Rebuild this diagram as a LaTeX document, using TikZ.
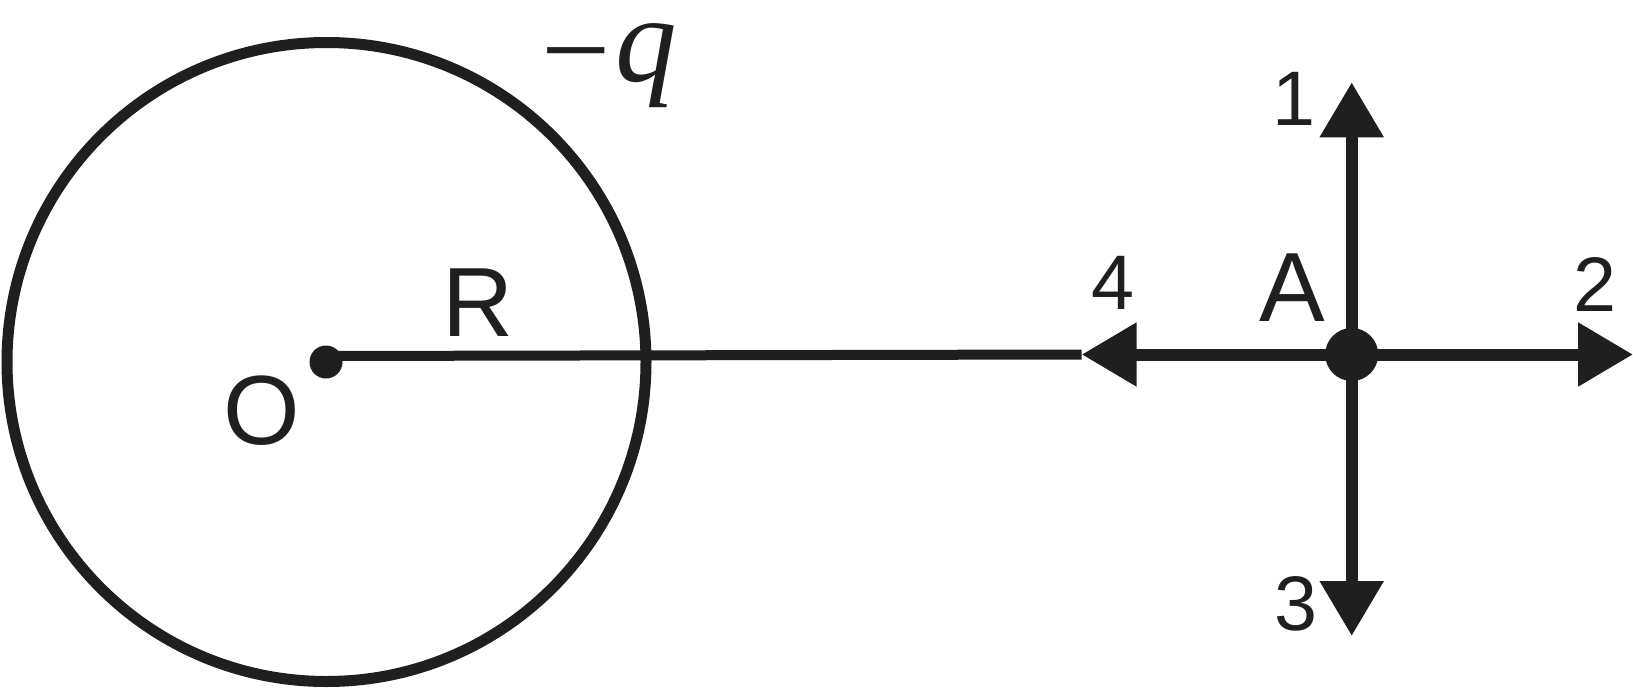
\documentclass[tikz,border=0pt]{standalone}
\usepackage{fontspec}
\setmainfont{Liberation Sans}
\newfontfamily\timesfont{Liberation Serif}
\usetikzlibrary{arrows.meta}
\begin{document}
\begin{tikzpicture}[black!88,
  dot/.style={circle,fill=black!88,inner sep=0pt,minimum size=#1},
  ray/.style={line width=0.12cm,-{Triangle[length=0.55cm,width=0.61cm]}},
  lab/.style={inner sep=0pt,font=\fontsize{28}{28}\selectfont},
  num/.style={inner sep=0pt,font=\fontsize{22}{22}\selectfont}]
\useasboundingbox (0,0) rectangle (16.33,6.89);
% sphere of charge -q
\draw[line width=0.11cm] (3.265,3.27) circle (3.195);
\node[dot=0.33cm] (O) at (3.26,3.27) {};
\node[dot=0.53cm] (A) at (13.517,3.345) {};
\coordinate (e1) at (13.517,6.067);
\coordinate (e2) at (16.33,3.345);
\coordinate (e3) at (13.517,0.53);
\coordinate (e4) at (10.817,3.345);
\draw[line width=0.1cm] ([yshift=0.06cm]O.center) -- (e4);
\foreach \e in {e1,e2,e3,e4}
  \draw[ray] (A.center) -- (\e);
% labels
\node[lab] (Olab) at (2.62,2.785) {O};
\node[lab] (Rlab) at (4.78,3.86) {R};
\node[lab] (Alab) at (12.92,4.01) {A};
\node[num] (n1) at (12.94,5.90) {1};
\node[num] (n2) at (15.945,4.043) {2};
\node[num] (n3) at (12.96,0.85) {3};
\node[num] (n4) at (11.13,4.06) {4};
\node[anchor=base,inner sep=0pt,font=\timesfont\fontsize{35}{35}\selectfont] (q) at (6.09,6.075) {\raisebox{-0.1cm}{−}\kern0.05cm\textit{q}};
\end{tikzpicture}
\end{document}
